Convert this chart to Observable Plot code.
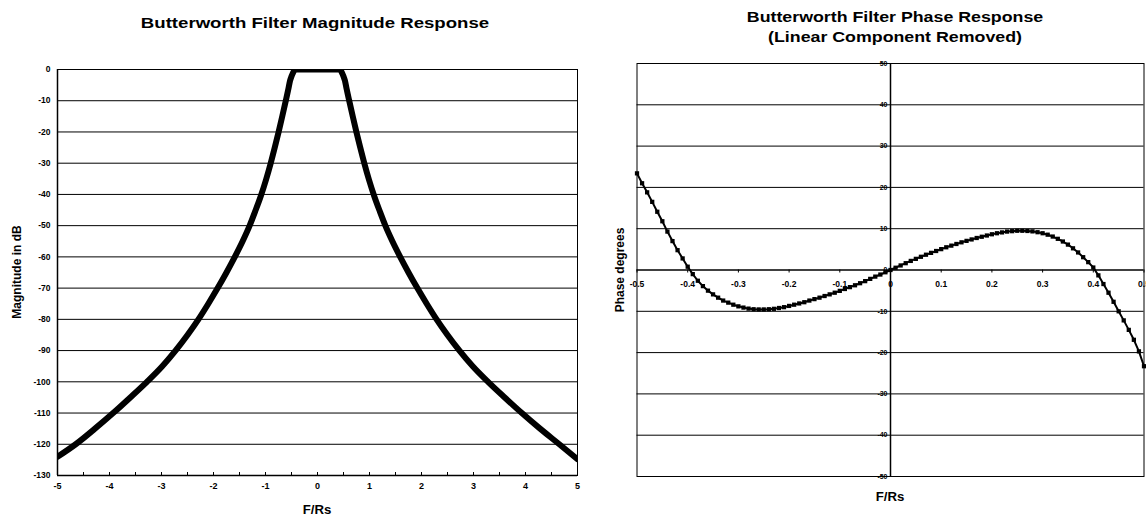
<!DOCTYPE html>
<html><head><meta charset="utf-8">
<script src="https://cdn.jsdelivr.net/npm/d3@7"></script>
<script src="https://cdn.jsdelivr.net/npm/@observablehq/plot@0.6"></script>
<style>
html,body{margin:0;padding:0;background:#fff;}
#root{position:relative;width:1146px;height:516px;overflow:hidden;font-family:'Liberation Sans',Arial,sans-serif;font-weight:bold;color:#000;}
.panel{position:absolute;top:0;}
.t{position:absolute;white-space:nowrap;line-height:1;}
</style></head><body><div id="root"></div>
<script>
// ---------- Magnitude response data ----------
const magFreq = [-5.0, -4.65, -4.28, -3.93, -3.6, -3.28, -2.985, -2.73, -2.5, -2.29, -2.1, -1.92, -1.75, -1.59, -1.44, -1.305, -1.2, -1.09, -0.99, -0.9, -0.822, -0.748, -0.678, -0.61, -0.56, -0.527, -0.5, -0.48, -0.45, -0.42,
  -0.3, -0.2, -0.1, 0, 0.1, 0.2, 0.3,
  0.42, 0.45, 0.48, 0.5, 0.527, 0.56, 0.61, 0.678, 0.748, 0.822, 0.9, 0.99, 1.09, 1.2, 1.305, 1.44, 1.59, 1.75, 1.92, 2.1, 2.29, 2.5, 2.73, 2.985, 3.28, 3.6, 3.93, 4.28, 4.65, 5.0];
const magDb = [-124, -120, -115, -110, -105, -100, -95, -90, -85, -80, -75, -70, -65, -60, -55, -50, -45.5, -40.5, -35.3, -30, -25, -20, -15, -10, -6.2, -3.5, -2.2, -1.4, -0.4, 0,
  0, 0, 0, 0, 0, 0, 0,
  0, -0.4, -1.4, -2.2, -3.5, -6.2, -10, -15, -20, -25, -30, -35.3, -40.5, -45.5, -50, -55, -60, -65, -70, -75, -80, -85, -90, -95, -100, -105, -110, -115, -120, -124.8];
const magYTicks = [0, -10, -20, -30, -40, -50, -60, -70, -80, -90, -100, -110, -120, -130];
const magGrid = [-10, -20, -30, -40, -50, -60, -70, -80, -90, -100, -110, -120];
const magXTicks = [-5, -4, -3, -2, -1, 0, 1, 2, 3, 4, 5];
const magXMinor = [-5, -4.5, -4, -3.5, -3, -2.5, -2, -1.5, -1, -0.5, 0, 0.5, 1, 1.5, 2, 2.5, 3, 3.5, 4, 4.5, 5];

// ---------- Phase response data ----------
const phaseFreq = [-0.5, -0.49, -0.48, -0.47, -0.46, -0.45, -0.44, -0.43, -0.42, -0.41, -0.4, -0.39, -0.38, -0.37, -0.36, -0.35, -0.34, -0.33, -0.32, -0.31, -0.3, -0.29, -0.28, -0.27, -0.26, -0.25, -0.24, -0.23, -0.22, -0.21, -0.2, -0.19, -0.18, -0.17, -0.16, -0.15, -0.14, -0.13, -0.12, -0.11, -0.1, -0.09, -0.08, -0.07, -0.06, -0.05, -0.04, -0.03, -0.02, -0.01, 0,
  0.01, 0.02, 0.03, 0.04, 0.05, 0.06, 0.07, 0.08, 0.09, 0.1, 0.11, 0.12, 0.13, 0.14, 0.15, 0.16, 0.17, 0.18, 0.19, 0.2, 0.21, 0.22, 0.23, 0.24, 0.25, 0.26, 0.27, 0.28, 0.29, 0.3, 0.31, 0.32, 0.33, 0.34, 0.35, 0.36, 0.37, 0.38, 0.39, 0.4, 0.41, 0.42, 0.43, 0.44, 0.45, 0.46, 0.47, 0.48, 0.49, 0.5];
const phaseDeg = [23.4, 21.0, 18.8, 16.5, 14.1, 11.8, 9.3, 7.0, 4.8, 2.8, 0.8, -1.0, -2.6, -3.9, -5.0, -5.9, -6.7, -7.4, -7.9, -8.4, -8.8, -9.1, -9.35, -9.5, -9.55, -9.55, -9.5, -9.4, -9.2, -9.0, -8.7, -8.4, -8.1, -7.8, -7.4, -7.05, -6.7, -6.3, -5.9, -5.5, -5.05, -4.6, -4.15, -3.7, -3.2, -2.7, -2.15, -1.6, -1.1, -0.55, 0,
  0.55, 1.1, 1.65, 2.2, 2.7, 3.2, 3.7, 4.15, 4.6, 5.05, 5.5, 5.9, 6.3, 6.7, 7.05, 7.4, 7.75, 8.05, 8.35, 8.65, 8.9, 9.1, 9.3, 9.4, 9.5, 9.5, 9.45, 9.35, 9.15, 8.9, 8.55, 8.1, 7.55, 6.9, 6.15, 5.25, 4.25, 3.1, 1.9, 0.6, -1.3, -3.4, -5.5, -7.7, -10.0, -12.2, -14.5, -16.9, -19.7, -23.3];
const phaseYTicks = [50, 40, 30, 20, 10, 0, -10, -20, -30, -40, -50];
const phaseGrid = [40, 30, 20, 10, -10, -20, -30, -40];
const phaseXTicks = [-0.5, -0.4, -0.3, -0.2, -0.1, 0, 0.1, 0.2, 0.3, 0.4, 0.5];

// ---------- Text ----------
const magTitle = "Butterworth Filter Magnitude Response";
const phaseTitle1 = "Butterworth Filter Phase Response";
const phaseTitle2 = "(Linear Component Removed)";
const magYLabel = "Magnitude in dB";
const phaseYLabel = "Phase degrees";
const xLabel = "F/Rs";

const root = document.getElementById("root");
const baseStyle = {fontFamily: "'Liberation Sans', Arial, sans-serif", fontWeight: "bold", background: "transparent", color: "#000", overflow: "visible"};

function addText(txt, cx, cy, size, sx = 1, rot = 0) {
  const d = document.createElement("div");
  d.className = "t";
  d.textContent = txt;
  d.style.left = cx + "px";
  d.style.top = cy + "px";
  d.style.fontSize = size + "px";
  d.style.transform = `translate(-50%,-50%) rotate(${rot}deg) scaleX(${sx})`;
  root.appendChild(d);
}

// ---------- Left chart ----------
const magData = magFreq.map((f, i) => ({f, db: magDb[i]}));
const left = Plot.plot({
  width: 600, height: 516,
  marginLeft: 57, marginRight: 23, marginTop: 69, marginBottom: 41,
  x: {domain: [-5, 5], axis: null},
  y: {domain: [-130, 0], axis: null},
  style: baseStyle,
  marks: [
    Plot.ruleY(magGrid, {y: d => d, stroke: "#000", strokeWidth: 1}),
    Plot.ruleX(magXMinor, {x: d => d, y1: -130, y2: -130, insetTop: -3, stroke: "#000", strokeWidth: 1}),
    Plot.text(magYTicks, {frameAnchor: "left", y: d => d, text: d => String(d), textAnchor: "end", dx: -7, fontSize: 8.5, fill: "#000"}),
    Plot.text(magXTicks, {x: d => d, frameAnchor: "bottom", text: d => String(d), dy: 13, fontSize: 9, fill: "#000"}),
    Plot.frame({stroke: "#000", strokeWidth: 1}),
    Plot.ruleX([-5], {stroke: "#000", strokeWidth: 1.5}),
    Plot.ruleY([-130], {stroke: "#000", strokeWidth: 1.5}),
    Plot.line(magData, {x: "f", y: "db", stroke: "#000", strokeWidth: 6, curve: "monotone-x", clip: true, strokeLinejoin: "round"})
  ]
});
const lp = document.createElement("div");
lp.className = "panel"; lp.style.left = "0px";
lp.appendChild(left);
root.appendChild(lp);

// ---------- Right chart ----------
const phaseData = phaseFreq.map((f, i) => ({f, deg: phaseDeg[i]}));
const fmtX = d => d === 0 ? "0" : d.toFixed(1);
const right = Plot.plot({
  width: 546, height: 516,
  marginLeft: 36.5, marginRight: 2.5, marginTop: 63, marginBottom: 40,
  x: {domain: [-0.5, 0.5], axis: null},
  y: {domain: [-50, 50], axis: null},
  style: baseStyle,
  marks: [
    Plot.text(phaseYTicks, {x: () => 0, y: d => d, text: d => String(d), textAnchor: "end", dx: -3, fontSize: 7, fill: "#000"}),
    Plot.ruleY(phaseGrid, {y: d => d, stroke: "#000", strokeWidth: 1}),
    Plot.ruleY([0], {stroke: "#000", strokeWidth: 1.5}),
    Plot.ruleX([0], {stroke: "#000", strokeWidth: 1.5}),
    Plot.ruleX(phaseXTicks, {x: d => d, y1: 0, y2: 0, insetBottom: -3, stroke: "#000", strokeWidth: 1}),
    Plot.text(phaseXTicks, {x: d => d, y: () => 0, text: fmtX, dy: 14, fontSize: 8.5, fill: "#000"}),
    Plot.frame({stroke: "#000", strokeWidth: 1}),
    Plot.line(phaseData, {x: "f", y: "deg", stroke: "#000", strokeWidth: 2}),
    Plot.dot(phaseData, {x: "f", y: "deg", symbol: "square", r: 2.4, fill: "#000", stroke: "none"})
  ]
});
const rp = document.createElement("div");
rp.className = "panel"; rp.style.left = "600px";
rp.appendChild(right);
root.appendChild(rp);

// ---------- Titles and axis labels ----------
addText(magTitle, 315, 23, 15.5, 1.2);
addText(phaseTitle1, 895, 17.3, 14, 1.27);
addText(phaseTitle2, 895, 37.3, 14, 1.27);
addText(magYLabel, 17, 272, 12, 1, -90);
addText(phaseYLabel, 620, 270, 12, 1, -90);
addText(xLabel, 317, 510, 12, 1.1);
addText(xLabel, 890, 496.5, 12, 1.1);
</script></body></html>
